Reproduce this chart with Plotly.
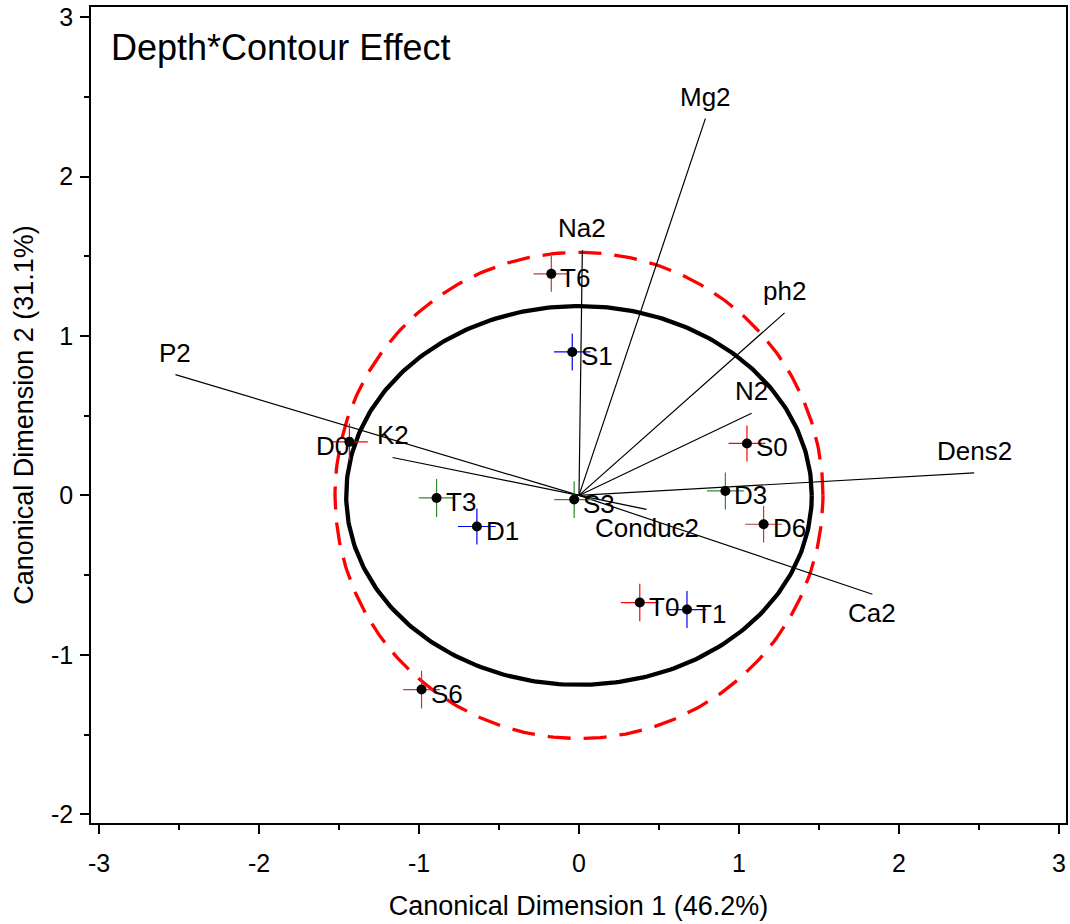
import numpy as np
import plotly.graph_objects as go

# ---- data ----
point_labels = ["T6", "S1", "D0", "T3", "D1", "S3", "T0", "T1", "S0", "D3", "D6", "S6"]
point_x = [-0.173, -0.042, -1.435, -0.890, -0.638, -0.030, 0.380, 0.675, 1.050, 0.915, 1.154, -0.984]
point_y = [1.390, 0.900, 0.336, -0.016, -0.195, -0.026, -0.672, -0.716, 0.326, 0.028, -0.181, -1.218]
point_err_x = [0.111, 0.114, 0.115, 0.111, 0.118, 0.125, 0.118, 0.120, 0.115, 0.115, 0.115, 0.115]
point_err_y = [0.113, 0.116, 0.115, 0.119, 0.113, 0.115, 0.118, 0.116, 0.113, 0.116, 0.115, 0.118]
point_depth = ["6", "1", "0", "3", "1", "3", "0", "1", "0", "3", "6", "6"]
label_side = ["right", "right", "left", "right", "right", "right", "right", "right", "right", "right", "right", "right"]

vec_labels = ["Mg2", "Na2", "ph2", "N2", "Dens2", "Ca2", "Conduc2", "P2", "K2"]
vec_x = [0.790, 0.021, 1.285, 1.079, 2.470, 1.834, 0.422, -2.522, -1.165]
vec_y = [2.364, 1.538, 1.145, 0.516, 0.141, -0.620, -0.088, 0.758, 0.238]

ellipse_rx = 1.455
ellipse_ry = 1.188
circle_r = 1.525

x_ticks = [-3, -2, -1, 0, 1, 2, 3]
x_ticktext = ["-3", "-2", "-1", "0", "1", "2", "3"]
y_ticks = [-2, -1, 0, 1, 2, 3]
y_ticktext = ["-2", "-1", "0", "1", "2", "3"]

title_text = "Depth*Contour Effect"
x_title = "Canonical Dimension 1 (46.2%)"
y_title = "Canonical Dimension 2 (31.1%)"

depth_colors = {"0": "#ff0000", "1": "#0000ff", "3": "#2e8b2e", "6": "#c03a3a"}

FONT = "Liberation Sans, Arial, Helvetica, sans-serif"

fig = go.Figure()

t = np.linspace(0, 2 * np.pi, 361)
# red dashed circle
fig.add_trace(go.Scatter(x=circle_r * np.cos(t), y=circle_r * np.sin(t), mode="lines",
                         line=dict(color="#ff0000", width=3.3, dash="23px,13px"),
                         hoverinfo="skip", showlegend=False))
# black ellipse
fig.add_trace(go.Scatter(x=ellipse_rx * np.cos(t), y=ellipse_ry * np.sin(t), mode="lines",
                         line=dict(color="black", width=4.3),
                         hoverinfo="skip", showlegend=False))

# vectors
for lab, vx, vy in zip(vec_labels, vec_x, vec_y):
    fig.add_trace(go.Scatter(x=[0, vx], y=[0, vy], mode="lines",
                             line=dict(color="black", width=1.2),
                             hoverinfo="skip", showlegend=False))

# error crosses
for px, py, ex, ey, d in zip(point_x, point_y, point_err_x, point_err_y, point_depth):
    col = depth_colors[d]
    fig.add_trace(go.Scatter(x=[px - ex, px + ex, None, px, px],
                             y=[py, py, None, py - ey, py + ey],
                             mode="lines", line=dict(color=col, width=1.2),
                             hoverinfo="skip", showlegend=False))

# points
fig.add_trace(go.Scatter(x=point_x, y=point_y, mode="markers",
                         marker=dict(color="black", size=10),
                         text=point_labels, hoverinfo="text", showlegend=False))

annotations = []
for lab, px, py, side in zip(point_labels, point_x, point_y, label_side):
    if side == "right":
        annotations.append(dict(x=px, y=py, text=lab, showarrow=False, xanchor="left",
                                yanchor="middle", xshift=7, yshift=-4,
                                font=dict(family=FONT, size=26, color="black")))
    else:
        annotations.append(dict(x=px, y=py, text=lab, showarrow=False, xanchor="right",
                                yanchor="middle", xshift=2, yshift=-4,
                                font=dict(family=FONT, size=26, color="black")))

for lab, vx, vy in zip(vec_labels, vec_x, vec_y):
    annotations.append(dict(x=vx, y=vy, text=lab, showarrow=False, xanchor="center",
                            yanchor="middle", yshift=(22 if vy > 0 else -19),
                            font=dict(family=FONT, size=26, color="black")))

annotations.append(dict(xref="paper", yref="paper", x=0.0185, y=0.9506, text=title_text,
                        showarrow=False, xanchor="left", yanchor="middle",
                        font=dict(family=FONT, size=36, color="black")))

axis_common = dict(showgrid=False, zeroline=False, showline=True, mirror=True,
                   linecolor="black", linewidth=1.5, ticks="outside", ticklen=9,
                   tickwidth=1.5, tickcolor="black",
                   tickfont=dict(family=FONT, size=25, color="black"),
                   minor=dict(dtick=0.5, ticklen=5, tickwidth=1.5, tickcolor="black", ticks="outside"))

fig.update_layout(
    width=1070, height=924,
    margin=dict(l=91, r=2, t=7, b=101),
    plot_bgcolor="white", paper_bgcolor="white",
    xaxis=dict(range=[-3.050, 3.044], tickvals=x_ticks, ticktext=x_ticktext,
               title=dict(text=x_title, font=dict(family=FONT, size=27, color="black"), standoff=20),
               ticklabelstandoff=8, **axis_common),
    yaxis=dict(range=[-2.055, 3.064], tickvals=y_ticks, ticktext=y_ticktext,
               title=dict(text=y_title, font=dict(family=FONT, size=27, color="black"), standoff=10),
               ticklabelstandoff=2, **axis_common),
    annotations=annotations,
    showlegend=False,
)

fig.write_html("out.html")
